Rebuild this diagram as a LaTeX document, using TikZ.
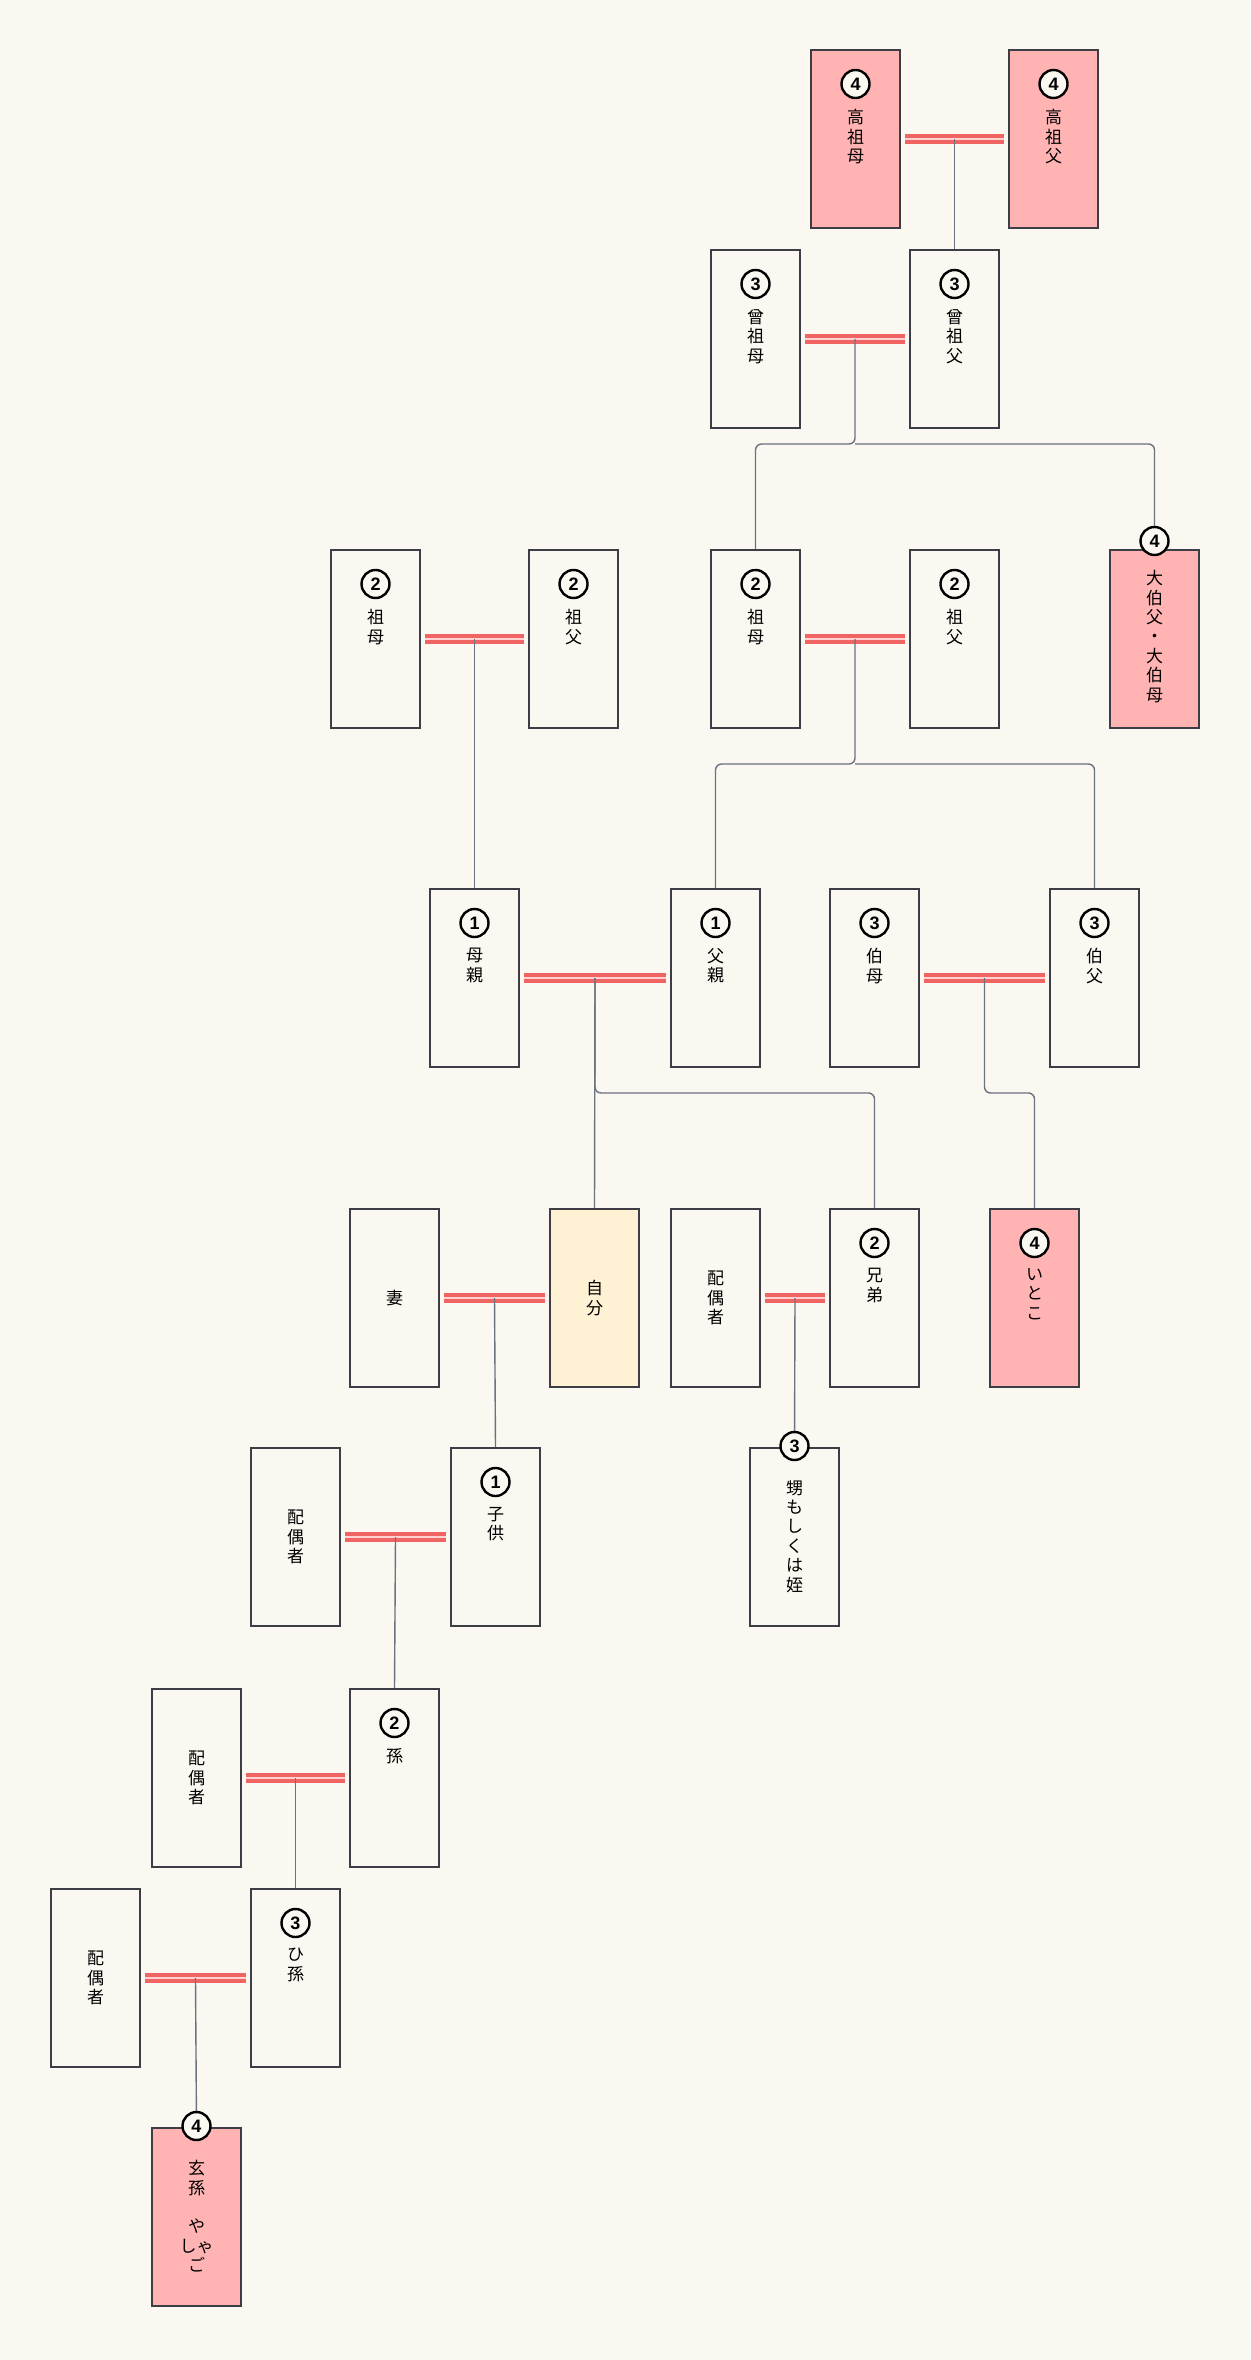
\documentclass[tikz,border=0pt]{standalone}
\usepackage{fontspec}
\newfontfamily\cjk{Noto Sans CJK JP}
\newfontfamily\numf{Liberation Sans}
\usetikzlibrary{calc}
\definecolor{bg}{HTML}{FBF8F2}
\definecolor{pinkf}{HTML}{FFB3B3}
\definecolor{yelf}{HTML}{FFF2D4}
\definecolor{edge}{HTML}{3D3D45}
\definecolor{conc}{HTML}{6B7280}
\definecolor{marc}{HTML}{F06464}
\tikzset{
 box/.style={draw=edge,line width=1pt,minimum width=44.5pt,minimum height=89pt,inner sep=0pt},
 num/.style={circle,draw=black,line width=1.2pt,fill=bg,minimum size=14pt,inner sep=0pt,font=\numf\bfseries\fontsize{9}{9}\selectfont},
 txt/.style={align=center,inner sep=0pt,font=\cjk\fontsize{8.5}{9.7}\selectfont},
 conn/.style={draw=conc,line width=0.7pt,rounded corners=3pt},
 marr/.style={draw=marc,line width=2.2pt,double=pinkf!60,double distance=0.8pt,shorten <=2pt,shorten >=2pt},
}
% \fb{name}{left}{top}{fill}{number}{circle offset}{text}
\newcommand\fb[7]{%
 \node[box,fill=#4] (#1) at (#2+44.5,#3+89) {};
 \node[num] at (#2+44.5,#3+#6) {#5};
 \node[txt,anchor=north] at (#2+44.5,#3+59) {#7};}
\newcommand\pb[5]{%
 \node[box,fill=#4] (#1) at (#2+44.5,#3+89) {};
 \node[txt] at (#2+44.5,#3+89) {#5};}
\newcommand\mar[3]{%
 \draw[marr] (#1.east) -- (#2.west);
 \coordinate (#3) at ($(#1.east)!0.5!(#2.west)$);}
\begin{document}
\begin{tikzpicture}[x=0.5pt,y=-0.5pt]
\fill[bg] (0,0) rectangle (1250,2360);
\useasboundingbox (0,0) rectangle (1250,2360);
\fb{A}{811}{50}{pinkf}{4}{34}{高\\祖\\母}
\fb{B}{1009}{50}{pinkf}{4}{34}{高\\祖\\父}
\fb{C}{711}{250}{bg}{3}{34}{曾\\祖\\母}
\fb{D}{910}{250}{bg}{3}{34}{曾\\祖\\父}
\fb{E}{331}{550}{bg}{2}{34}{祖\\母}
\fb{F}{529}{550}{bg}{2}{34}{祖\\父}
\fb{G}{711}{550}{bg}{2}{34}{祖\\母}
\fb{H}{910}{550}{bg}{2}{34}{祖\\父}
\fb{J}{430}{889}{bg}{1}{34}{母\\親}
\fb{K}{671}{889}{bg}{1}{34}{父\\親}
\fb{L}{830}{889}{bg}{3}{34}{伯\\母}
\fb{M}{1050}{889}{bg}{3}{34}{伯\\父}
\pb{N}{350}{1209}{bg}{妻}
\pb{O}{550}{1209}{yelf}{自\\分}
\pb{P}{671}{1209}{bg}{配\\偶\\者}
\fb{Q}{830}{1209}{bg}{2}{34}{兄\\弟}
\fb{R}{990}{1209}{pinkf}{4}{34}{い\\と\\こ}
\pb{S}{251}{1448}{bg}{配\\偶\\者}
\fb{T}{451}{1448}{bg}{1}{34}{子\\供}
\pb{V}{152}{1689}{bg}{配\\偶\\者}
\fb{W}{350}{1689}{bg}{2}{34}{孫}
\pb{X}{51}{1889}{bg}{配\\偶\\者}
\fb{Y}{251}{1889}{bg}{3}{34}{ひ\\孫}
% connectors
\coordinate (y2) at (0,444);
\coordinate (y3) at (0,764);
\coordinate (y4) at (0,1093);
\mar{A}{B}{mAB}
\mar{C}{D}{mCD}
\mar{E}{F}{mEF}
\mar{G}{H}{mGH}
\mar{J}{K}{mJK}
\mar{L}{M}{mLM}
\mar{N}{O}{mNO}
\mar{P}{Q}{mPQ}
\mar{S}{T}{mST}
\mar{V}{W}{mVW}
\node[box,fill=pinkf] (I) at (1154.5,639) {};
\node[box,fill=bg] (U) at (794.5,1537) {};
\node[box,fill=pinkf] (Z) at (196.5,2217) {};
\mar{X}{Y}{mXY}
\draw[conn] (mAB) -- (D.north);
\draw[conn] (mCD) -- (mCD|-y2) -| (G.north);
\draw[conn] (mCD|-y2) -| (I.north);
\draw[conn] (mEF) -- (J.north);
\draw[conn] (mGH) -- (mGH|-y3) -| (K.north);
\draw[conn] (mGH|-y3) -| (M.north);
\draw[conn] (mJK) -- (O.north);
\draw[conn] (mJK) -- (mJK|-y4) -| (Q.north);
\draw[conn] (mLM) -- (mLM|-y4) -| (R.north);
\draw[conn] (mNO) -- (T.north);
\draw[conn] (mPQ) -- (U.north);
\draw[conn] (mST) -- (W.north);
\draw[conn] (mVW) -- (Y.north);
\draw[conn] (mXY) -- (Z.north);
% boxes with number on the edge
\node[num] at (1154.5,541) {4};
\node[txt,anchor=north] at (1154.5,570) {大\\伯\\父\\・\\大\\伯\\母};
\node[num] at (794.5,1446) {3};
\node[txt,anchor=north] at (794.5,1480) {甥\\も\\し\\く\\は\\姪};
\node[num] at (196.5,2126) {4};
\node[txt,anchor=north] at (196.5,2160) {玄\\孫\\\\や\\しゃ\\ご};
\end{tikzpicture}
\end{document}
